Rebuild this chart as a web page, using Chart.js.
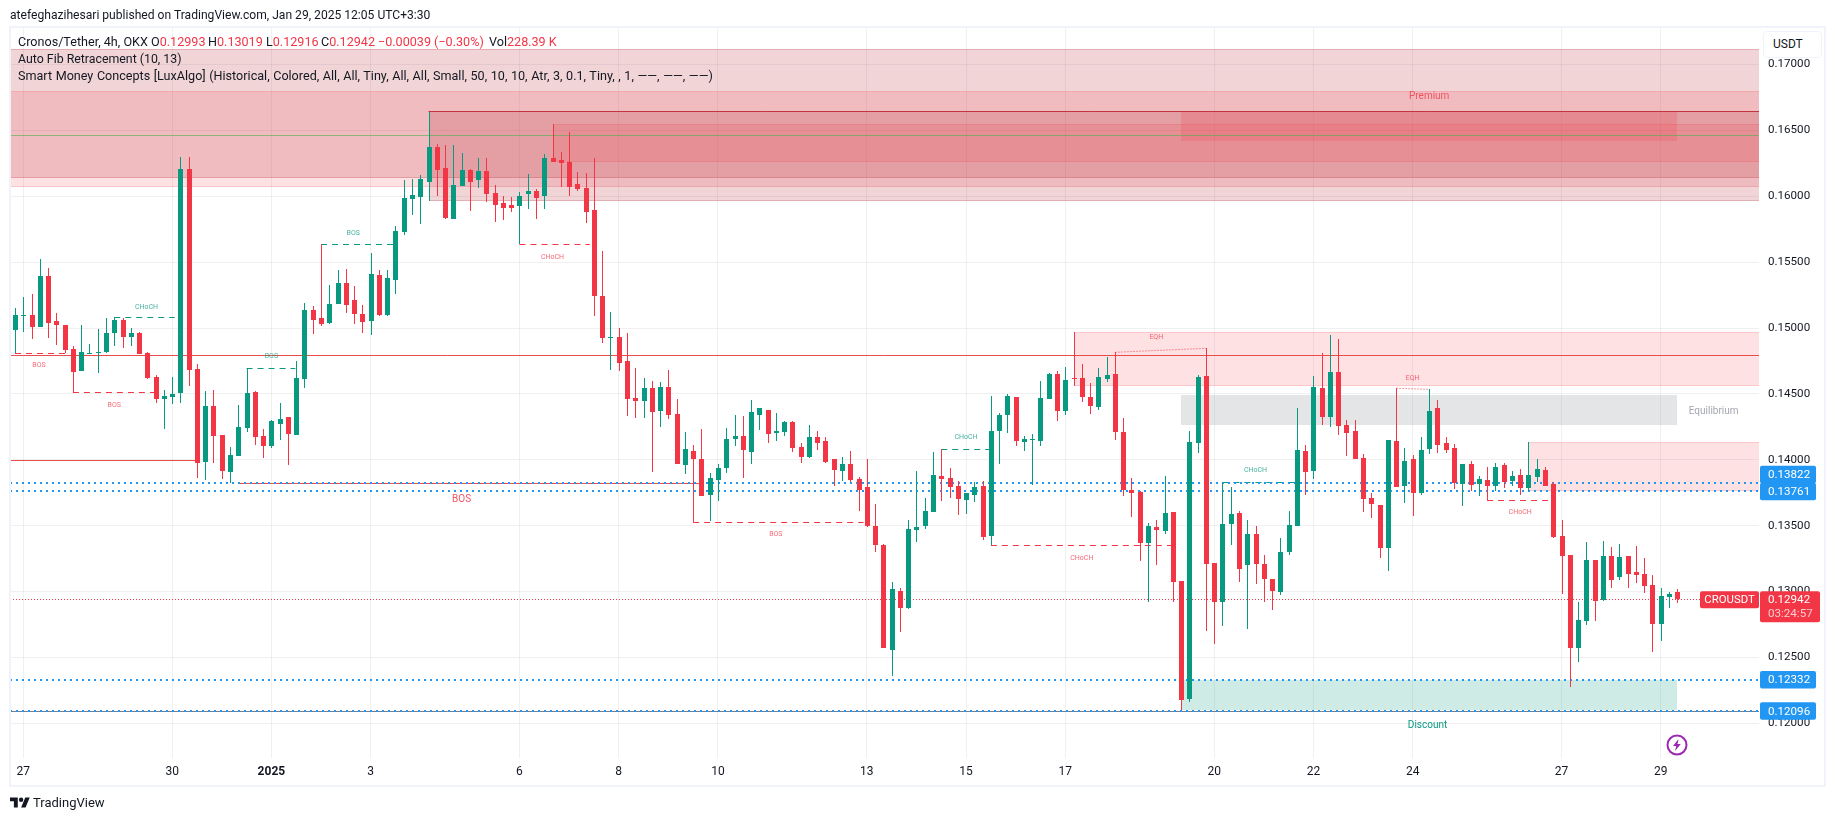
<!DOCTYPE html>
<html>
<head>
<meta charset="utf-8">
<title>CROUSDT</title>
<script src="https://cdn.jsdelivr.net/npm/chart.js@4/dist/chart.umd.js"></script>
<style>
  html, body { margin: 0; background: #fff; }
  body { width: 1835px; height: 821px; overflow: hidden; position: relative; font-family: Roboto, sans-serif; color: #131722; }
  canvas { position: absolute; left: 0; top: 0; }
  .txt { position: absolute; font-size: 12.6px; line-height: 16px; white-space: pre; }
  .red { color: #f23645; }
  #frame { position: absolute; left: 9px; top: 26px; width: 1813px; height: 757px; border: 2px solid #f0f3fa; pointer-events: none; }
  #unit { position: absolute; left: 1763px; top: 31px; width: 48px; height: 25px; padding-left: 9px; background: #fff; border: 1px solid #f0f3fa; border-radius: 4px; font-size: 12px; line-height: 25px; }
</style>
</head>
<body>
<canvas id="chart" width="1835" height="821"></canvas>
<div id="frame"></div>
<div id="unit">USDT</div>
<div class="txt" style="left:10px;top:7px;font-size:12.1px">atefeghazihesari published on TradingView.com, Jan 29, 2025 12:05 UTC+3:30</div>
<div class="txt" style="left:18px;top:34px">Cronos/Tether, 4h, OKX</div>
<div class="txt" style="left:151px;top:34px">O<span class="red">0.12993</span></div>
<div class="txt" style="left:208px;top:34px">H<span class="red">0.13019</span></div>
<div class="txt" style="left:266px;top:34px">L<span class="red">0.12916</span></div>
<div class="txt" style="left:321px;top:34px">C<span class="red">0.12942</span></div>
<div class="txt red" style="left:378px;top:34px">−0.00039 (−0.30%)</div>
<div class="txt" style="left:489px;top:34px">Vol<span class="red">228.39 K</span></div>
<div class="txt" style="left:18px;top:51px;font-size:12.35px">Auto Fib Retracement (10, 13)</div>
<div class="txt" style="left:18px;top:68px;word-spacing:0.45px">Smart Money Concepts [LuxAlgo] (Historical, Colored, All, All, Tiny, All, All, Small, 50, 10, 10, Atr, 3, 0.1, Tiny, , 1, ——, ——, ——)</div>
<svg style="position:absolute;left:10px;top:795px" width="20" height="16" viewBox="0 0 36 28"><path fill="#131722" d="M14 22H7V11H0V4h14v18zM28 22h-8l7.5-18h8L28 22z"/><circle fill="#131722" cx="20" cy="8" r="4"/></svg>
<div class="txt" style="left:33px;top:795px;font-size:13px">TradingView</div>
<svg style="position:absolute;left:1666px;top:734px" width="22" height="22" viewBox="0 0 22 22"><circle cx="11" cy="11" r="9.5" fill="#fff" stroke="#9c27b0" stroke-width="2"/><path fill="#9c27b0" d="M12.5 5 7 12h3.2L9 17l5.8-7h-3.3z"/></svg>

<script>
// 4h candles
const candleOpen = [
  0.14985,0.15092,0.15099,0.15008,0.15395,0.15054,0.15023,0.14841,0.14674,0.14803,
  0.14811,0.14818,0.14963,0.15061,0.14932,0.14963,0.14811,0.14629,0.14462,0.14477,
  0.14507,0.16207,0.14689,0.13983,0.14409,0.14188,0.13907,0.14029,0.14241,0.14515,
  0.14181,0.14105,0.14272,0.14325,0.14188,0.14613,0.15137,0.15076,0.15038,0.15183,
  0.15342,0.15213,0.15107,0.15054,0.15403,0.15099,0.15365,0.15729,0.15980,0.15995,
  0.16109,0.16374,0.16215,0.15828,0.16078,0.16200,0.16124,0.16192,0.16025,0.15949,
  0.15934,0.15926,0.16018,0.16040,0.16002,0.16291,0.16276,0.16260,0.16093,0.16063,
  0.15896,0.15243,0.14925,0.14932,0.14750,0.14469,0.14446,0.14545,0.14371,0.14553,
  0.14348,0.13961,0.14067,0.14006,0.13733,0.13847,0.13938,0.14158,0.14181,0.14059,
  0.14340,0.14378,0.14204,0.14211,0.14287,0.14097,0.14021,0.14173,0.14143,0.14006,
  0.13915,0.13968,0.13854,0.13794,0.13498,0.13354,0.12557,0.13004,0.12875,0.13467,
  0.13498,0.13604,0.13877,0.13862,0.13801,0.13695,0.13733,0.13801,0.13422,0.14219,
  0.14340,0.14477,0.14135,0.14150,0.14143,0.14462,0.14651,0.14371,0.14621,0.14621,
  0.14477,0.14401,0.14613,0.14651,0.14211,0.13771,0.13756,0.13369,0.13490,0.13460,
  0.13604,0.13080,0.12185,0.14128,0.14636,0.13217,0.12921,0.13513,0.13596,0.13202,
  0.13437,0.13209,0.13096,0.12997,0.13300,0.13498,0.14067,0.13915,0.14545,0.14325,
  0.14667,0.14264,0.14219,0.14014,0.13710,0.13657,0.13331,0.14143,0.13801,0.14006,
  0.13748,0.14082,0.14393,0.14128,0.14090,0.13816,0.13968,0.13816,0.13847,0.13801,
  0.13961,0.13839,0.13885,0.13786,0.13870,0.13923,0.13816,0.13422,0.13278,0.12572,
  0.12777,0.13240,0.12936,0.13270,0.13111,0.13270,0.13148,0.13133,0.13050,0.12754,
  0.12959,0.12993
];
const candleHigh = [
  0.15152,0.15236,0.15259,0.15524,0.15456,0.15114,0.15023,0.14864,0.15023,0.14879,
  0.14993,0.15076,0.15084,0.15076,0.15000,0.14970,0.14818,0.14644,0.14530,0.14629,
  0.16298,0.16298,0.14727,0.14522,0.14530,0.14188,0.14097,0.14416,0.14697,0.14522,
  0.14234,0.14302,0.14431,0.14325,0.14750,0.15190,0.15167,0.15638,0.15327,0.15441,
  0.15448,0.15319,0.15175,0.15570,0.15441,0.15441,0.15775,0.16124,0.16131,0.16162,
  0.16640,0.16397,0.16390,0.16390,0.16329,0.16207,0.16291,0.16291,0.16086,0.16002,
  0.15995,0.16033,0.16169,0.16055,0.16321,0.16549,0.16336,0.16488,0.16185,0.16177,
  0.16291,0.15585,0.15122,0.15000,0.14963,0.14697,0.14621,0.14598,0.14591,0.14682,
  0.14462,0.14211,0.14112,0.14234,0.13900,0.13968,0.14241,0.14340,0.14333,0.14454,
  0.14393,0.14378,0.14355,0.14295,0.14295,0.14128,0.14264,0.14219,0.14173,0.14006,
  0.14021,0.14067,0.13870,0.14006,0.13665,0.13361,0.13073,0.13027,0.13543,0.13915,
  0.13710,0.14059,0.14082,0.13938,0.13839,0.13748,0.13832,0.13839,0.14484,0.14355,
  0.14500,0.14477,0.14181,0.14196,0.14598,0.14659,0.14674,0.14704,0.14970,0.14727,
  0.14583,0.14697,0.14780,0.14818,0.14317,0.13862,0.13763,0.13520,0.13543,0.13877,
  0.13604,0.13080,0.14219,0.14644,0.14849,0.13217,0.13832,0.13794,0.13612,0.13543,
  0.13498,0.13278,0.13096,0.13407,0.13612,0.14393,0.14112,0.14636,0.14811,0.14947,
  0.14917,0.14302,0.14302,0.14044,0.13748,0.13657,0.14150,0.14545,0.14090,0.14037,
  0.14173,0.14538,0.14454,0.14173,0.14120,0.13968,0.13991,0.13877,0.13946,0.13976,
  0.13976,0.13915,0.13930,0.14135,0.14006,0.13946,0.13832,0.13543,0.13278,0.12921,
  0.13376,0.13240,0.13384,0.13338,0.13361,0.13270,0.13346,0.13255,0.13126,0.13027,
  0.12997,0.13019
];
const candleLow = [
  0.14811,0.14970,0.14917,0.15008,0.14925,0.14872,0.14811,0.14515,0.14674,0.14803,
  0.14659,0.14811,0.14864,0.14849,0.14864,0.14803,0.14613,0.14431,0.14234,0.14424,
  0.14431,0.14560,0.13862,0.13847,0.13976,0.13854,0.13824,0.14029,0.14211,0.14112,
  0.14014,0.14090,0.14150,0.13961,0.14188,0.14545,0.14955,0.15016,0.15031,0.15183,
  0.15114,0.15031,0.14963,0.14947,0.15092,0.15092,0.15259,0.15706,0.15858,0.15790,
  0.15964,0.16002,0.15828,0.15828,0.16078,0.15888,0.16063,0.15957,0.15805,0.15820,
  0.15881,0.15638,0.15904,0.15828,0.15904,0.16260,0.16071,0.16002,0.16040,0.15797,
  0.15092,0.14887,0.14682,0.14674,0.14333,0.14317,0.14317,0.13908,0.14249,0.14310,
  0.13968,0.13892,0.13528,0.13725,0.13536,0.13687,0.13900,0.14105,0.13862,0.13968,
  0.14226,0.14128,0.14143,0.14181,0.14059,0.13976,0.14014,0.14075,0.13976,0.13801,
  0.13839,0.13832,0.13612,0.13490,0.13300,0.12572,0.12359,0.12693,0.12868,0.13376,
  0.13475,0.13604,0.13687,0.13710,0.13581,0.13589,0.13680,0.13391,0.13354,0.13968,
  0.14204,0.14105,0.14067,0.13809,0.14105,0.14462,0.14295,0.14340,0.14560,0.14439,
  0.14348,0.14378,0.14591,0.14150,0.13725,0.13566,0.13232,0.12921,0.13202,0.13437,
  0.12921,0.12101,0.12162,0.14052,0.12701,0.12602,0.12739,0.13354,0.13073,0.12716,
  0.13057,0.12921,0.12860,0.12974,0.13278,0.13498,0.13733,0.13854,0.14264,0.14249,
  0.14188,0.14029,0.14006,0.13604,0.13558,0.13255,0.13156,0.13794,0.13672,0.13574,
  0.13733,0.14044,0.14052,0.14052,0.13779,0.13649,0.13763,0.13725,0.13695,0.13763,
  0.13786,0.13801,0.13733,0.13763,0.13832,0.13801,0.13407,0.12982,0.12276,0.12465,
  0.12746,0.12777,0.12928,0.13027,0.13088,0.13027,0.13065,0.12989,0.12541,0.12625,
  0.12875,0.12916
];
const candleClose = [
  0.15099,0.15097,0.15008,0.15395,0.15038,0.15023,0.14833,0.14667,0.14818,0.14811,
  0.14818,0.14963,0.15061,0.14932,0.14963,0.14803,0.14621,0.14462,0.14484,0.14500,
  0.16207,0.14682,0.13976,0.14409,0.14181,0.13915,0.14037,0.14249,0.14507,0.14173,
  0.14105,0.14295,0.14310,0.14196,0.14621,0.15137,0.15061,0.15031,0.15183,0.15342,
  0.15175,0.15107,0.15046,0.15410,0.15099,0.15380,0.15737,0.15987,0.16010,0.16131,
  0.16374,0.16200,0.15835,0.16086,0.16200,0.16109,0.16192,0.16018,0.15934,0.15911,
  0.15911,0.16002,0.16040,0.15987,0.16291,0.16260,0.16253,0.16071,0.16055,0.15881,
  0.15243,0.14925,0.14932,0.14735,0.14462,0.14446,0.14545,0.14363,0.14553,0.14340,
  0.13968,0.14082,0.14006,0.13725,0.13862,0.13938,0.14158,0.14181,0.14075,0.14363,
  0.14393,0.14196,0.14219,0.14287,0.14090,0.14021,0.14173,0.14128,0.13983,0.13923,
  0.13968,0.13847,0.13771,0.13498,0.13354,0.12572,0.13020,0.12875,0.13475,0.13490,
  0.13612,0.13885,0.13854,0.13794,0.13703,0.13748,0.13794,0.13414,0.14219,0.14340,
  0.14484,0.14143,0.14158,0.14158,0.14469,0.14651,0.14371,0.14606,0.14613,0.14477,
  0.14408,0.14629,0.14644,0.14211,0.13771,0.13748,0.13369,0.13498,0.13467,0.13596,
  0.13073,0.12177,0.14135,0.14629,0.13209,0.12921,0.13513,0.13589,0.13171,0.13437,
  0.13209,0.13096,0.13004,0.13300,0.13505,0.14075,0.13908,0.14553,0.14325,0.14667,
  0.14257,0.14204,0.14006,0.13703,0.13665,0.13331,0.14150,0.13794,0.13991,0.13748,
  0.14075,0.14371,0.14112,0.14075,0.13824,0.13968,0.13809,0.13854,0.13801,0.13946,
  0.13832,0.13877,0.13786,0.13885,0.13930,0.13801,0.13414,0.13270,0.12572,0.12784,
  0.13240,0.12928,0.13270,0.13088,0.13262,0.13133,0.13126,0.13042,0.12754,0.12966,
  0.12982,0.12942
];

// axes
const dayTickBars = [1, 19, 31, 43, 61, 73, 85, 103, 115, 127, 145, 157, 169, 187, 199];
const dayTickLabels = ['27', '30', '2025', '3', '6', '8', '10', '13', '15', '17', '20', '22', '24', '27', '29'];
const priceTicks = [0.12, 0.125, 0.13, 0.135, 0.14, 0.145, 0.15, 0.155, 0.16, 0.165, 0.17];
const barAxisLeft = -0.605;
const barAxisRight = 210.88;
const priceAxisMin = 0.117366;
const priceAxisMax = 0.17285;

// shaded zones, drawn in this order
const zoneKinds = ['dark', 'light', 'dark', 'light', 'bright', 'light', 'gray', 'light', 'teal'];
const zoneFromBar = [barAxisLeft, barAxisLeft, 50, 65, 141, 128, 141, 183, 141];
const zoneToBar = [barAxisRight, barAxisRight, barAxisRight, barAxisRight, 201, barAxisRight, 201, barAxisRight, 201];
const zoneTop = [0.17116, 0.16799, 0.16644, 0.16549, 0.16644, 0.14970, 0.14494, 0.14135, 0.12329];
const zoneBottom = [0.16141, 0.16073, 0.15967, 0.16260, 0.16420, 0.14563, 0.14264, 0.13763, 0.12101];

// structure lines
const lineKinds = ['fibGreen', 'swingRed', 'swingRed', 'swingRed', 'swingDark',
  'dashRed', 'dashRed', 'dashGreen', 'dashGreen', 'dashGreen', 'dashRed', 'dashRed', 'dashGreen', 'dashRed', 'dashGreen', 'dashRed',
  'eqh', 'eqh'];
const lineFromBar = [barAxisLeft, barAxisLeft, barAxisLeft, 27, 50,
  0, 7, 12, 28, 37, 61, 82, 112, 118, 146, 178,
  133, 167];
const lineToBar = [barAxisRight, barAxisRight, 22, 82.7, barAxisRight,
  6.5, 17, 19.3, 33.9, 45.9, 69.5, 102.6, 117.9, 139.8, 154.7, 185.4,
  144, 171];
const lineFromPrice = [0.16463, 0.14793, 0.13996, 0.13822, 0.16644,
  0.14808, 0.14515, 0.15082, 0.14695, 0.15636, 0.15636, 0.13526, 0.14080, 0.13351, 0.13829, 0.13693,
  0.14816, 0.14543];
const lineToPrice = [0.16463, 0.14793, 0.13996, 0.13822, 0.16644,
  0.14808, 0.14515, 0.15082, 0.14695, 0.15636, 0.15636, 0.13526, 0.14080, 0.13351, 0.13829, 0.13693,
  0.14846, 0.14535];

// small labels on the chart
const noteTexts = ['BOS', 'BOS', 'CHoCH', 'BOS', 'BOS', 'CHoCH', 'BOS', 'BOS', 'CHoCH', 'CHoCH', 'EQH', 'CHoCH', 'EQH', 'CHoCH', 'Premium', 'Equilibrium', 'Discount'];
const noteKinds = ['red', 'red', 'green', 'green', 'green', 'red', 'redBig', 'red', 'green', 'red', 'red', 'green', 'red', 'red', 'premium', 'equilibrium', 'discount'];
const noteBars = [2.9, 12, 15.9, 31, 40.9, 65, 54, 92, 115, 129, 138, 150, 169, 182, 171, 205.4, 170.8];
const notePrices = [0.14727, 0.14422, 0.15169, 0.14790, 0.15727, 0.15544, 0.13705, 0.13442, 0.14178, 0.13260, 0.14937, 0.13925, 0.14628, 0.13607, 0.16765, 0.14373, 0.11992];

// price lines with a tag on the scale
const alertPrices = [0.13822, 0.13761, 0.12332, 0.12096];
const lastPrice = 0.12942;
const lastSymbol = 'CROUSDT';
const lastCountdown = '03:24:57';

const GREEN = '#089981';
const RED = '#f23645';
const BLUE = '#2196f3';
const GRID = 'rgba(42,46,57,0.07)';
const FONT = 'Roboto, sans-serif';

const zoneStyles = {
  dark: { fill: 'rgba(178,40,51,0.2)', edge: 'rgba(178,40,51,0.22)' },
  light: { fill: 'rgba(242,54,69,0.15)', edge: 'rgba(242,54,69,0.15)' },
  bright: { fill: 'rgba(242,54,69,0.2)', edge: null },
  gray: { fill: 'rgba(120,123,134,0.2)', edge: null },
  teal: { fill: 'rgba(8,153,129,0.2)', edge: null }
};
const lineStyles = {
  fibGreen: { color: 'rgba(76,175,80,0.6)', dash: [] },
  swingRed: { color: '#ea4b4b', dash: [] },
  swingDark: { color: '#c0353f', dash: [] },
  dashRed: { color: RED, dash: [6, 5] },
  dashGreen: { color: GREEN, dash: [6, 5] },
  eqh: { color: 'rgba(242,54,69,0.5)', dash: [2, 1] }
};
const noteStyles = {
  red: { color: 'rgba(242,54,69,0.75)', size: 7 },
  green: { color: 'rgba(8,153,129,0.75)', size: 7 },
  redBig: { color: 'rgba(242,54,69,0.85)', size: 10 },
  premium: { color: 'rgba(242,54,69,0.8)', size: 10 },
  equilibrium: { color: '#a3a6af', size: 10 },
  discount: { color: GREEN, size: 10 }
};

const candleColors = candleOpen.map((o, i) => candleClose[i] >= o ? GREEN : RED);

function level(ctx, chart, fromBar, toBar, price, color, width, dash) {
  const { x, y } = chart.scales;
  const py = Math.round(y.getPixelForValue(price)) + (width % 2 ? 0.5 : 0);
  ctx.save();
  ctx.strokeStyle = color;
  ctx.lineWidth = width;
  ctx.setLineDash(dash);
  ctx.beginPath();
  ctx.moveTo(x.getPixelForValue(fromBar), py);
  ctx.lineTo(x.getPixelForValue(toBar), py);
  ctx.stroke();
  ctx.restore();
}

function tag(ctx, left, top, width, height, color) {
  ctx.fillStyle = color;
  ctx.beginPath();
  ctx.roundRect(left, top, width, height, 2);
  ctx.fill();
}

const overlayPlugin = {
  id: 'overlay',
  // snap the bars to whole pixels so they stay crisp like the original
  afterDatasetsUpdate(chart) {
    chart.getSortedVisibleDatasetMetas().forEach(meta => {
      meta.data.forEach(el => {
        el.x = Math.round(el.x) + 0.5;
        el.y = Math.round(el.y);
        el.base = Math.round(el.base);
      });
    });
  },
  beforeDatasetsDraw(chart) {
    const { ctx, scales: { x, y } } = chart;
    ctx.save();
    zoneKinds.forEach((kind, i) => {
      const st = zoneStyles[kind];
      const left = Math.round(x.getPixelForValue(zoneFromBar[i]));
      const right = Math.round(x.getPixelForValue(zoneToBar[i]));
      const top = Math.round(y.getPixelForValue(zoneTop[i]));
      const bottom = Math.round(y.getPixelForValue(zoneBottom[i]));
      ctx.fillStyle = st.fill;
      ctx.fillRect(left, top, right - left, bottom - top);
      if (st.edge) {
        ctx.fillStyle = st.edge;
        ctx.fillRect(left, top, right - left, 1);
        ctx.fillRect(left, bottom - 1, right - left, 1);
      }
    });
    lineKinds.forEach((kind, i) => {
      const st = lineStyles[kind];
      if (lineFromPrice[i] === lineToPrice[i]) {
        level(ctx, chart, lineFromBar[i], lineToBar[i], lineFromPrice[i], st.color, 1, st.dash);
      } else {
        ctx.save();
        ctx.strokeStyle = st.color;
        ctx.setLineDash(st.dash);
        ctx.beginPath();
        ctx.moveTo(x.getPixelForValue(lineFromBar[i]), y.getPixelForValue(lineFromPrice[i]));
        ctx.lineTo(x.getPixelForValue(lineToBar[i]), y.getPixelForValue(lineToPrice[i]));
        ctx.stroke();
        ctx.restore();
      }
    });
    level(ctx, chart, barAxisLeft, barAxisRight, alertPrices[3], '#787b86', 1, []);
    alertPrices.forEach(p => level(ctx, chart, barAxisLeft, barAxisRight, p, BLUE, 2, [2, 4]));
    level(ctx, chart, barAxisLeft, barAxisRight, lastPrice, RED, 1, [1, 2]);
    noteTexts.forEach((text, i) => {
      const st = noteStyles[noteKinds[i]];
      ctx.fillStyle = st.color;
      ctx.font = st.size + 'px ' + FONT;
      ctx.textAlign = 'center';
      ctx.textBaseline = 'middle';
      ctx.fillText(text, x.getPixelForValue(noteBars[i]), y.getPixelForValue(notePrices[i]) + 1);
    });
    ctx.restore();
  },
  afterDraw(chart) {
    const { ctx, chartArea, scales: { y } } = chart;
    const axisLeft = chartArea.right + 1;
    ctx.save();
    ctx.font = '11.6px ' + FONT;
    ctx.textBaseline = 'middle';
    ctx.textAlign = 'left';
    // alert tags, pushed upward when they would overlap
    const centres = alertPrices.map(p => y.getPixelForValue(p));
    for (let i = centres.length - 2; i >= 0; i--) {
      if (centres[i + 1] - centres[i] < 17) centres[i] = centres[i + 1] - 17;
    }
    centres.forEach(c => tag(ctx, axisLeft, c - 8.5, 56, 17.5, BLUE));
    ctx.fillStyle = '#fff';
    centres.forEach((c, i) => ctx.fillText(alertPrices[i].toFixed(5), axisLeft + 8, c + 1));
    // last price tags
    const lastY = y.getPixelForValue(lastPrice);
    tag(ctx, axisLeft, lastY - 8, 60, 31, RED);
    tag(ctx, chartArea.right - 59, lastY - 8, 59, 17, RED);
    ctx.fillStyle = '#fff';
    ctx.fillText(lastPrice.toFixed(5), axisLeft + 8, lastY + 1);
    ctx.fillStyle = 'rgba(255,255,255,0.75)';
    ctx.fillText(lastCountdown, axisLeft + 8, lastY + 15);
    ctx.fillStyle = '#fff';
    ctx.textAlign = 'center';
    ctx.font = '11.4px ' + FONT;
    ctx.fillText(lastSymbol, chartArea.right - 29.5, lastY + 1);
    ctx.restore();
  }
};

new Chart(document.getElementById('chart'), {
  type: 'bar',
  data: {
    datasets: [
      {
        // bodies first in the list so they sit on top of the wicks
        label: 'body',
        data: candleOpen.map((o, i) => ({ x: i, y: [o, candleClose[i]] })),
        backgroundColor: candleColors,
        barThickness: 5,
        grouped: false,
        inflateAmount: 0,
        borderWidth: 0,
        order: 1
      },
      {
        label: 'wick',
        data: candleLow.map((l, i) => ({ x: i, y: [l, candleHigh[i]] })),
        backgroundColor: candleColors,
        barThickness: 1,
        grouped: false,
        inflateAmount: 0,
        borderWidth: 0,
        order: 2
      }
    ]
  },
  options: {
    responsive: false,
    animation: false,
    events: [],
    layout: { autoPadding: false, padding: { left: 10, top: 27, right: 10, bottom: 35 } },
    plugins: { legend: { display: false }, tooltip: { enabled: false } },
    scales: {
      x: {
        type: 'linear',
        offset: false,
        min: barAxisLeft,
        max: barAxisRight,
        border: { display: false },
        grid: { color: GRID, drawTicks: false, offset: false },
        afterFit(scale) { scale.height = 28; },
        afterBuildTicks(scale) { scale.ticks = dayTickBars.map(v => ({ value: v })); },
        ticks: {
          autoSkip: false,
          maxRotation: 0,
          padding: 7,
          color: '#131722',
          font: ctx => ({ family: FONT, size: 12, weight: dayTickLabels[ctx.index] === '2025' ? 'bold' : 'normal' }),
          callback: value => dayTickLabels[dayTickBars.indexOf(value)]
        }
      },
      y: {
        position: 'right',
        min: priceAxisMin,
        max: priceAxisMax,
        border: { display: false },
        grid: { color: GRID, drawTicks: false },
        afterFit(scale) { scale.width = 66; },
        afterBuildTicks(scale) { scale.ticks = priceTicks.map(v => ({ value: v })); },
        ticks: {
          autoSkip: false,
          padding: 9,
          color: '#131722',
          font: { family: FONT, size: 11.6 },
          callback: value => value.toFixed(5)
        }
      }
    }
  },
  plugins: [overlayPlugin]
});
</script>
</body>
</html>
